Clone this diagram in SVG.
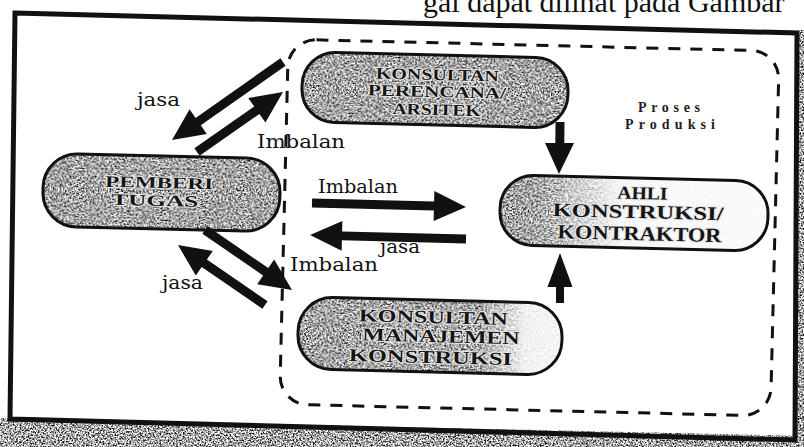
<svg xmlns="http://www.w3.org/2000/svg" width="804" height="447" viewBox="0 0 804 447">
<defs>
<filter id="grain" x="0" y="0" width="100%" height="100%" color-interpolation-filters="sRGB">
<feTurbulence type="fractalNoise" baseFrequency="0.6" numOctaves="3" seed="7" result="n"/>
<feColorMatrix in="n" type="matrix" values="2.4 0 0 0 -0.55  2.4 0 0 0 -0.55  2.4 0 0 0 -0.55  0 0 0 0 1" result="g"/>
<feComposite in="g" in2="SourceAlpha" operator="in"/>
</filter>
<linearGradient id="fadeA" x1="0" y1="0" x2="1" y2="0">
<stop offset="0.12" stop-color="#fff" stop-opacity="0"/>
<stop offset="0.45" stop-color="#fff" stop-opacity="0.92"/>
<stop offset="1" stop-color="#fff" stop-opacity="0.95"/>
</linearGradient>
<linearGradient id="fadeM" x1="0" y1="0" x2="1" y2="0">
<stop offset="0.68" stop-color="#fff" stop-opacity="0"/>
<stop offset="0.86" stop-color="#fff" stop-opacity="0.85"/>
<stop offset="1" stop-color="#fff" stop-opacity="0.9"/>
</linearGradient>
<style>
.node{stroke:#111;stroke-width:3;fill:none}
.tex{fill:#888;stroke:none}
.nt{font-family:"Liberation Serif","DejaVu Serif",serif;font-weight:bold;fill:#151515;stroke:#e6e6e6;stroke-width:2;paint-order:stroke;text-anchor:middle}
.lb{font-family:"DejaVu Serif","Liberation Serif",serif;font-size:18px;fill:#111}
.pp{font-family:"Liberation Serif",serif;font-size:14px;fill:#222;font-weight:bold}
.arr{fill:#111;stroke:none}
</style>
</defs>
<rect width="804" height="447" fill="#fff"/>
<text x="423" y="12" style="font-family:'Liberation Serif',serif;font-size:30px;fill:#111">gai dapat dilihat pada Gambar</text>
<polygon points="0,418 804,436 804,447 0,447" class="tex" filter="url(#grain)"/>
<polygon points="799,30 804,30 804,447 797,447" class="tex" filter="url(#grain)"/>
<polygon points="15,13 797,33 795,440 10,419" fill="none" stroke="#111" stroke-width="5" stroke-linejoin="miter"/>
<rect x="284" y="42" width="491" height="365" rx="28" transform="rotate(1.4 402 223)" fill="none" stroke="#111" stroke-width="3" stroke-dasharray="12 10"/>

<g id="perencana" transform="rotate(1.4 435 90)">
<rect x="302" y="55" width="266" height="70" rx="33" class="tex" filter="url(#grain)"/>
<rect x="302" y="55" width="266" height="70" rx="33" class="node"/>
<text class="nt" x="437" y="80" font-size="16" textLength="123" lengthAdjust="spacingAndGlyphs">KONSULTAN</text>
<text class="nt" x="437" y="97" font-size="16" textLength="138" lengthAdjust="spacingAndGlyphs">PERENCANA/</text>
<text class="nt" x="437" y="115" font-size="16" textLength="88" lengthAdjust="spacingAndGlyphs">ARSITEK</text>
</g>
<g id="pemberi" transform="rotate(1.4 161 192)">
<rect x="43" y="156" width="237" height="73" rx="34" class="tex" filter="url(#grain)"/>
<rect x="43" y="156" width="237" height="73" rx="34" class="node"/>
<text class="nt" x="159" y="188" font-size="16" textLength="108" lengthAdjust="spacingAndGlyphs">PEMBERI</text>
<text class="nt" x="155" y="206" font-size="16" textLength="87" lengthAdjust="spacingAndGlyphs">TUGAS</text>
</g>
<g id="ahli" transform="rotate(1.4 634 213)">
<rect x="500" y="178" width="268" height="70" rx="33" class="tex" filter="url(#grain)"/>
<rect x="500" y="178" width="268" height="70" rx="33" fill="url(#fadeA)"/>
<rect x="500" y="178" width="268" height="70" rx="33" class="node"/>
<text class="nt" x="642" y="199" font-size="18" textLength="50" lengthAdjust="spacingAndGlyphs">AHLI</text>
<text class="nt" x="638" y="218" font-size="19" textLength="171" lengthAdjust="spacingAndGlyphs">KONSTRUKSI/</text>
<text class="nt" x="640" y="240" font-size="20" textLength="164" lengthAdjust="spacingAndGlyphs">KONTRAKTOR</text>
</g>
<g id="manajemen" transform="rotate(1.4 430 336)">
<rect x="298" y="300" width="264" height="72" rx="34" class="tex" filter="url(#grain)"/>
<rect x="298" y="300" width="264" height="72" rx="34" fill="url(#fadeM)"/>
<rect x="298" y="300" width="264" height="72" rx="34" class="node"/>
<text class="nt" x="433" y="323" font-size="18" textLength="149" lengthAdjust="spacingAndGlyphs">KONSULTAN</text>
<text class="nt" x="441" y="342" font-size="18" textLength="157" lengthAdjust="spacingAndGlyphs">MANAJEMEN</text>
<text class="nt" x="431" y="363" font-size="18" textLength="163" lengthAdjust="spacingAndGlyphs">KONSTRUKSI</text>
</g>

<g id="connectors">
<polygon class="arr" points="280.4,58.3 195.6,117.9 189.6,109.3 172,140 206.8,133.9 200.8,125.3 285.6,65.7"/>
<polygon class="arr" points="199.6,155.7 259.4,114 265.4,122.6 283,92 248.2,98 254.2,106.6 194.4,148.3"/>
<polygon class="arr" transform="rotate(1.4 389 205)" points="312,200.5 434,200.5 434,190 466,205 434,220 434,209.5 312,209.5"/>
<polygon class="arr" transform="rotate(1.4 388 237)" points="466,232.5 342,232.5 342,222 310,237 342,252 342,241.5 466,241.5"/>
<polygon class="arr" points="202.4,233.7 263.1,275.5 257.2,284.2 292,290 274.2,259.5 268.3,268.1 207.6,226.3"/>
<polygon class="arr" points="267.6,301.3 206.9,259.5 212.8,250.9 178,245 195.8,275.6 201.7,266.9 262.4,308.7"/>
<polygon class="arr" points="564.5,122 564.3,143 574,143 559,174 545,143 555.3,143 555.5,122"/>
<polygon class="arr" points="556,303 556,287 547.5,287 560,253 572.5,287 564,287 564,303"/>
</g>

<g id="labels">
<text class="lb" x="137" y="106" textLength="43" lengthAdjust="spacingAndGlyphs">jasa</text>
<text class="lb" x="257" y="148" textLength="88" lengthAdjust="spacingAndGlyphs">Imbalan</text>
<text class="lb" x="318" y="193" textLength="80" lengthAdjust="spacingAndGlyphs">Imbalan</text>
<text class="lb" x="380" y="253" textLength="40" lengthAdjust="spacingAndGlyphs">jasa</text>
<text class="lb" x="290" y="271" textLength="88" lengthAdjust="spacingAndGlyphs">Imbalan</text>
<text class="lb" x="162" y="289" textLength="41" lengthAdjust="spacingAndGlyphs">jasa</text>
<text class="pp" x="638" y="112" textLength="62">Proses</text>
<text class="pp" x="625" y="129" textLength="90">Produksi</text>
</g>
</svg>
